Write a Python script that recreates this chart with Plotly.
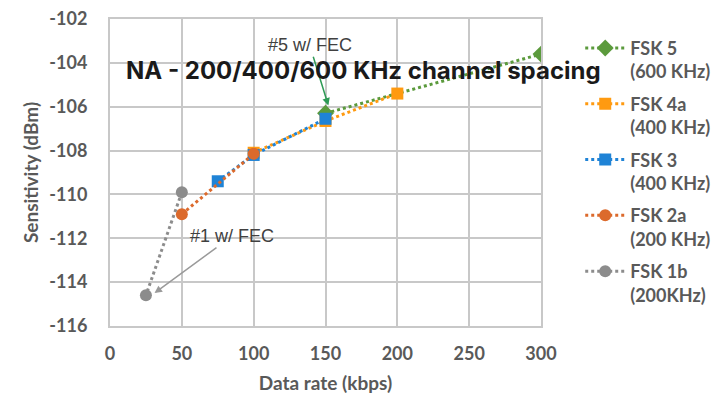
import plotly.graph_objects as go

series_names = ["FSK 5<br>(600 KHz)", "FSK 4a<br>(400 KHz)", "FSK 3<br>(400 KHz)", "FSK 2a<br>(200 KHz)", "FSK 1b<br>(200KHz)"]
fsk5_x = [150, 300]
fsk5_y = [-106.3, -103.6]
fsk4a_x = [100, 150, 200]
fsk4a_y = [-108.1, -106.65, -105.4]
fsk3_x = [75, 100, 150]
fsk3_y = [-109.4, -108.2, -106.55]
fsk2a_x = [50, 100]
fsk2a_y = [-110.9, -108.15]
fsk1b_x = [50, 25]
fsk1b_y = [-109.9, -114.6]

x_ticks = [0, 50, 100, 150, 200, 250, 300]
y_ticks = [-116, -114, -112, -110, -108, -106, -104, -102]
y_tick_labels = ["-116", "-114", "-112", "-110", "-108", "-106", "-104", "-102"]

colors = ["#5b9a3c", "#ff9a10", "#1f83d6", "#dc6a2c", "#8c8c8c"]
symbols = ["diamond", "square", "square", "circle", "circle"]
xs = [fsk5_x, fsk4a_x, fsk3_x, fsk2a_x, fsk1b_x]
ys = [fsk5_y, fsk4a_y, fsk3_y, fsk2a_y, fsk1b_y]

fig = go.Figure()
for i, (name, x, y, c, s) in enumerate(zip(series_names, xs, ys, colors, symbols)):
    fig.add_trace(go.Scatter(
        x=x, y=y, name=name, mode="lines+markers", legendgroup=f"g{i}",
        line=dict(color=c, width=3, dash="dot"),
        marker=dict(color=c, symbol=s, size=12 if s != "diamond" else 13),
    ))

tick_font = dict(family="Lato", size=18, color="#595959", weight="bold")
title_font = dict(family="Lato", size=19, color="#595959", weight="bold")
grid = "#c8c8c8"

fig.update_layout(
    width=723, height=398,
    margin=dict(l=102, r=190, t=11, b=80),
    paper_bgcolor="white", plot_bgcolor="white",
    showlegend=True,
    legend=dict(x=1.091, y=0.965, xanchor="left", yanchor="top", valign="top",
                font=dict(family="Lato", size=18, color="#595959", weight="bold"),
                tracegroupgap=6, itemwidth=40, bgcolor="rgba(0,0,0,0)"),
    xaxis=dict(range=[0, 300], tickvals=x_ticks, automargin=False,
               showgrid=True, gridcolor=grid, gridwidth=2,
               showline=True, linecolor=grid, linewidth=2, mirror=True,
               zeroline=False, tickfont=tick_font, ticklabelstandoff=10,
               ticklabeloverflow="allow",
               title=dict(text="Data rate (kbps)", font=title_font, standoff=14)),
    yaxis=dict(range=[-116, -102], tickvals=y_ticks, ticktext=y_tick_labels, automargin=False,
               showgrid=True, gridcolor=grid, gridwidth=2,
               showline=True, linecolor=grid, linewidth=2, mirror=True,
               zeroline=False, tickfont=tick_font, ticklabelstandoff=17,
               ticklabeloverflow="allow",
               title=dict(text="Sensitivity (dBm)", font=title_font, standoff=6)),
    annotations=[
        dict(x=152, y=-105.95, ax=139, ay=-103.2, axref="x", ayref="y",
             xref="x", yref="y", text="#5 w/ FEC", showarrow=True,
             arrowhead=2, arrowsize=1, arrowwidth=1.5, arrowcolor="#2e9a55",
             font=dict(family="Liberation Sans", size=18, color="#404040")),
        dict(x=31, y=-114.5, ax=85, ay=-111.9, axref="x", ayref="y",
             xref="x", yref="y", text="#1 w/ FEC", showarrow=True,
             arrowhead=2, arrowsize=1, arrowwidth=1.5, arrowcolor="#9a9a9a",
             font=dict(family="Liberation Sans", size=18, color="#404040")),
        dict(x=0.589, y=0.833, xref="paper", yref="paper", xanchor="center", yanchor="middle",
             text="NA - 200/400/600 KHz channel spacing", showarrow=False,
             font=dict(family="Inter", size=24, color="#1a1a1a", weight="bold")),
    ],
)

fig.write_html("out.html")
